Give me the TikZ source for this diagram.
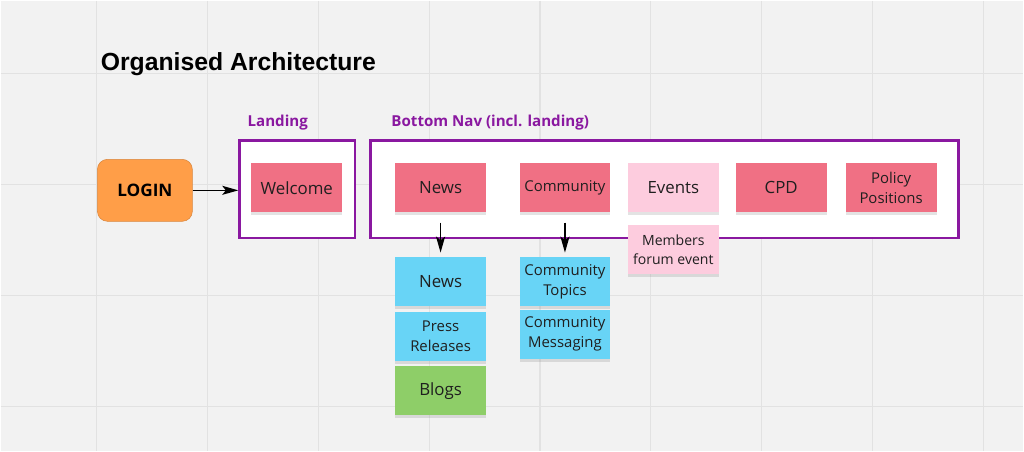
\documentclass[tikz,border=0pt]{standalone}
\usepackage{fontspec}
\setmainfont{Open Sans}
\newfontfamily\titlefont{Liberation Sans}
\usepackage{tikz}
\usetikzlibrary{positioning, arrows.meta, shadows}

\definecolor{boardbg}{RGB}{242,242,242}
\definecolor{gridline}{RGB}{226,226,226}
\definecolor{navpurple}{RGB}{138,24,160}
\definecolor{stickyred}{RGB}{240,112,132}
\definecolor{stickypink}{RGB}{253,204,222}
\definecolor{stickyblue}{RGB}{104,212,246}
\definecolor{stickygreen}{RGB}{142,206,104}
\definecolor{loginorange}{RGB}{255,158,72}

\begin{document}
\begin{tikzpicture}[
    sticky/.style={
        minimum width=1.82cm,
        minimum height=0.98cm,
        inner sep=1pt,
        align=center,
        text=black!88,
        font=\fontsize{9.6}{11.3}\selectfont,
        drop shadow={opacity=0.22, shadow xshift=0pt, shadow yshift=-1.8pt}
    },
    redsticky/.style={sticky, fill=stickyred},
    pinksticky/.style={sticky, fill=stickypink},
    bluesticky/.style={sticky, fill=stickyblue},
    greensticky/.style={sticky, fill=stickygreen},
    small/.style={font=\fontsize{8.5}{11.3}\selectfont},
    frame/.style={
        draw=navpurple,
        line width=0.05cm,
        fill=white
    },
    grouplabel/.style={
        anchor=base west,
        text=navpurple,
        font=\fontsize{8.6}{10}\selectfont\bfseries
    },
    arrow/.style={
        -{Stealth[length=3.2mm, width=1.8mm, inset=0.7mm]},
        line width=0.9pt
    }
]

% Board
\fill[boardbg] (0,0) rectangle (20.48,-9.02);
\foreach \gx in {1.92,4.14,...,19.70}
    \draw[gridline, line width=0.6pt] (\gx,0) -- (\gx,-9.02);
\foreach \gy in {-1.46,-3.68,-5.90,-8.12}
    \draw[gridline, line width=0.6pt] (0,\gy) -- (20.48,\gy);

% Title
\node[anchor=base west, inner sep=0pt, font=\titlefont\fontsize{14.1}{16}\selectfont\bfseries] (title) at (2.00,-1.40) {Organised Architecture};

% Group labels
\node[grouplabel, inner sep=0pt] (landlabel) at (4.94,-2.52) {Landing};
\node[grouplabel, inner sep=0pt] (navlabel) at (7.82,-2.52) {Bottom Nav (incl. landing)};

% Frames
\node[frame, minimum width=2.31cm, minimum height=1.95cm] (landing) at (5.94,-3.78) {};
\node[frame, minimum width=11.77cm, minimum height=1.95cm] (nav) at (13.29,-3.78) {};

% Login
\node[fill=loginorange, draw=loginorange!85!black, line width=0.3pt, rounded corners=0.2cm,
      minimum width=1.90cm, minimum height=1.24cm, font=\fontsize{9.8}{11}\selectfont\bfseries] (login) at (2.89,-3.80) {LOGIN};

% Top row
\node[redsticky] (welcome) at (5.93,-3.75) {Welcome};
\node[redsticky] (news) at (8.81,-3.75) {News};
\node[redsticky, small] (community) at (11.30,-3.75) {Community};
\node[pinksticky] (events) at (13.47,-3.75) {Events};
\node[redsticky] (cpd) at (15.63,-3.75) {CPD};
\node[redsticky, small] (policy) at (17.83,-3.75) {Policy\\Positions};

% Below the nav
\node[pinksticky, font=\fontsize{8}{11}\selectfont, below=0.24cm of events] (forum) {Members\\forum event};

\node[bluesticky, below=0.88cm of news] (newslist) {News};
\node[bluesticky, small, below=0.1cm of newslist] (press) {Press\\Releases};
\node[greensticky, below=0.1cm of press] (blogs) {Blogs};

\node[bluesticky, small, below=0.88cm of community] (topics) {Community\\Topics};
\node[bluesticky, small, below=0.06cm of topics] (messaging) {Community\\Messaging};

% Arrows
\draw[arrow] (login.east) -- (login.east -| landing.west);
\draw[arrow, shorten <=0.2cm, shorten >=0.08cm] (news) -- (newslist);
\draw[arrow, shorten <=0.2cm, shorten >=0.08cm] (community) -- (topics);

\end{tikzpicture}
\end{document}
